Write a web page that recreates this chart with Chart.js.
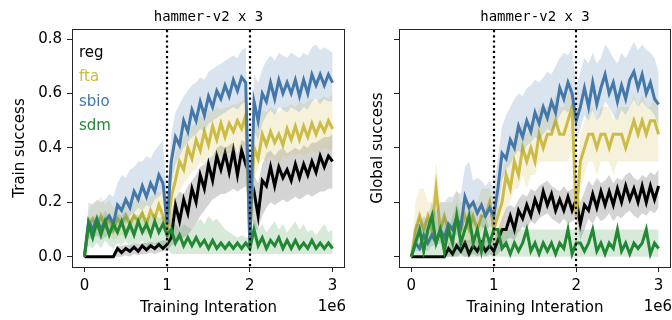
<!DOCTYPE html>
<html>
<head>
<meta charset="utf-8">
<script src="https://cdn.jsdelivr.net/npm/chart.js@4/dist/chart.umd.min.js"></script>
<style>
  html, body { margin: 0; padding: 0; background: #fff; }
  #wrap { position: relative; width: 672px; height: 320px; }
  canvas { position: absolute; top: 0; }
  #train { left: 0; }
  #global { left: 346px; }
</style>
</head>
<body>
<div id="wrap">
  <canvas id="train" width="346" height="320"></canvas>
  <canvas id="global" width="326" height="320"></canvas>
</div>
<script>
// training steps, in units of 1e6
const steps = [0, 0.05, 0.1, 0.15, 0.2, 0.25, 0.3, 0.35, 0.4, 0.45, 0.5, 0.55, 0.6, 0.65, 0.7, 0.75, 0.8, 0.85, 0.9, 0.95,
  1.0, 1.05, 1.1, 1.15, 1.2, 1.25, 1.3, 1.35, 1.4, 1.45, 1.5, 1.55, 1.6, 1.65, 1.7, 1.75, 1.8, 1.85, 1.9, 1.95,
  2.0, 2.05, 2.1, 2.15, 2.2, 2.25, 2.3, 2.35, 2.4, 2.45, 2.5, 2.55, 2.6, 2.65, 2.7, 2.75, 2.8, 2.85, 2.9, 2.95, 3.0];
const xTicks = [0, 1, 2, 3];
const yTicks = [0, 0.2, 0.4, 0.6, 0.8];
const phaseBreaks = [1, 2];
const methods = ['reg', 'fta', 'sbio', 'sdm'];

// ---- Train success (left panel) ----
const trainReg = [0, 0, 0, 0, 0, 0, 0, 0, 0.03, 0.015, 0.03, 0.02, 0.035, 0.02, 0.04, 0.025, 0.04, 0.03, 0.045, 0.03,
  0.045, 0.07, 0.19, 0.13, 0.21, 0.16, 0.25, 0.2, 0.3, 0.25, 0.34, 0.28, 0.37, 0.32, 0.38, 0.31, 0.39, 0.3, 0.39, 0.34,
  0.3, 0.24, 0.15, 0.28, 0.26, 0.33, 0.26, 0.33, 0.29, 0.32, 0.28, 0.34, 0.29, 0.34, 0.3, 0.35, 0.31, 0.37, 0.33, 0.37, 0.35];
const trainRegLo = [0, 0, 0, 0, 0, 0, 0, 0, 0, 0, 0.005, 0, 0.01, 0.005, 0.01, 0.01, 0.015, 0.01, 0.015, 0.02,
  0.02, 0.04, 0.05, 0.06, 0.07, 0.08, 0.1, 0.12, 0.15, 0.17, 0.19, 0.21, 0.22, 0.23, 0.23, 0.24, 0.25, 0.24, 0.25, 0.26,
  0.2, 0.1, 0.1, 0.15, 0.18, 0.2, 0.19, 0.2, 0.21, 0.2, 0.21, 0.22, 0.21, 0.22, 0.23, 0.22, 0.23, 0.24, 0.24, 0.25, 0.25];
const trainRegHi = [0, 0, 0, 0, 0, 0, 0, 0, 0.04, 0.04, 0.045, 0.04, 0.05, 0.045, 0.05, 0.05, 0.055, 0.05, 0.055, 0.06,
  0.06, 0.16, 0.21, 0.24, 0.23, 0.26, 0.28, 0.3, 0.33, 0.34, 0.36, 0.37, 0.4, 0.41, 0.4, 0.41, 0.42, 0.38, 0.43, 0.42,
  0.38, 0.3, 0.27, 0.34, 0.38, 0.39, 0.37, 0.39, 0.4, 0.38, 0.39, 0.4, 0.39, 0.41, 0.4, 0.42, 0.42, 0.43, 0.44, 0.44, 0.45];

const trainFta = [0, 0.11, 0.14, 0.11, 0.15, 0.11, 0.14, 0.1, 0.14, 0.12, 0.15, 0.12, 0.15, 0.13, 0.16, 0.12, 0.17, 0.14, 0.19, 0.15,
  0.08, 0.22, 0.28, 0.35, 0.32, 0.4, 0.36, 0.43, 0.39, 0.46, 0.41, 0.48, 0.43, 0.49, 0.44, 0.49, 0.46, 0.5, 0.47, 0.52,
  0.05, 0.4, 0.36, 0.45, 0.41, 0.46, 0.42, 0.45, 0.41, 0.47, 0.43, 0.48, 0.43, 0.48, 0.44, 0.49, 0.45, 0.49, 0.46, 0.5, 0.47];
const trainFtaLo = [0, 0.06, 0.08, 0.07, 0.09, 0.07, 0.08, 0.06, 0.07, 0.08, 0.07, 0.09, 0.08, 0.1, 0.09, 0.08, 0.1, 0.11, 0.12, 0.11,
  0.04, 0.12, 0.2, 0.24, 0.27, 0.29, 0.31, 0.32, 0.35, 0.34, 0.37, 0.36, 0.38, 0.37, 0.38, 0.38, 0.39, 0.39, 0.4, 0.41,
  0.02, 0.28, 0.33, 0.36, 0.35, 0.37, 0.36, 0.34, 0.37, 0.36, 0.38, 0.37, 0.38, 0.37, 0.38, 0.39, 0.38, 0.39, 0.4, 0.39, 0.4];
const trainFtaHi = [0, 0.17, 0.2, 0.2, 0.22, 0.19, 0.21, 0.18, 0.19, 0.2, 0.19, 0.21, 0.2, 0.22, 0.21, 0.2, 0.22, 0.23, 0.24, 0.23,
  0.12, 0.28, 0.38, 0.41, 0.44, 0.46, 0.48, 0.49, 0.52, 0.51, 0.54, 0.53, 0.55, 0.54, 0.55, 0.55, 0.56, 0.56, 0.57, 0.58,
  0.1, 0.48, 0.52, 0.54, 0.53, 0.55, 0.54, 0.53, 0.55, 0.55, 0.56, 0.55, 0.57, 0.56, 0.57, 0.58, 0.57, 0.58, 0.59, 0.58, 0.6];

const trainSbio = [0, 0.13, 0.1, 0.14, 0.1, 0.13, 0.15, 0.12, 0.19, 0.17, 0.21, 0.18, 0.24, 0.21, 0.26, 0.22, 0.27, 0.24, 0.3, 0.27,
  0.12, 0.35, 0.44, 0.41, 0.5, 0.46, 0.54, 0.5, 0.57, 0.52, 0.59, 0.55, 0.61, 0.58, 0.63, 0.59, 0.65, 0.61, 0.66, 0.64,
  0.03, 0.57, 0.5, 0.6, 0.57, 0.64, 0.58, 0.65, 0.6, 0.64, 0.6, 0.65, 0.59, 0.65, 0.6, 0.67, 0.63, 0.67, 0.63, 0.67, 0.64];
const trainSbioLo = [0, 0.07, 0.06, 0.08, 0.06, 0.07, 0.09, 0.08, 0.11, 0.14, 0.12, 0.15, 0.16, 0.18, 0.17, 0.19, 0.18, 0.21, 0.22, 0.24,
  0.06, 0.27, 0.34, 0.37, 0.4, 0.42, 0.44, 0.45, 0.47, 0.46, 0.49, 0.5, 0.51, 0.52, 0.53, 0.54, 0.55, 0.54, 0.56, 0.57,
  0.01, 0.46, 0.43, 0.49, 0.52, 0.54, 0.52, 0.55, 0.54, 0.53, 0.55, 0.54, 0.53, 0.55, 0.54, 0.57, 0.58, 0.56, 0.58, 0.57, 0.57];
const trainSbioHi = [0, 0.2, 0.19, 0.21, 0.2, 0.21, 0.23, 0.22, 0.27, 0.3, 0.29, 0.32, 0.33, 0.35, 0.35, 0.37, 0.36, 0.39, 0.41, 0.43,
  0.2, 0.45, 0.53, 0.56, 0.59, 0.61, 0.63, 0.64, 0.66, 0.65, 0.68, 0.69, 0.7, 0.71, 0.72, 0.73, 0.74, 0.73, 0.76, 0.77,
  0.08, 0.67, 0.64, 0.69, 0.72, 0.74, 0.72, 0.75, 0.74, 0.73, 0.75, 0.74, 0.73, 0.75, 0.74, 0.77, 0.78, 0.76, 0.77, 0.76, 0.75];

const trainSdm = [0, 0.12, 0.07, 0.13, 0.08, 0.13, 0.08, 0.12, 0.09, 0.13, 0.08, 0.12, 0.08, 0.13, 0.09, 0.12, 0.08, 0.13, 0.09, 0.12,
  0.08, 0.1, 0.05, 0.08, 0.04, 0.07, 0.04, 0.07, 0.04, 0.06, 0.03, 0.06, 0.03, 0.05, 0.03, 0.05, 0.03, 0.05, 0.03, 0.05,
  0.03, 0.1, 0.04, 0.07, 0.03, 0.06, 0.04, 0.07, 0.03, 0.06, 0.03, 0.06, 0.03, 0.05, 0.03, 0.06, 0.03, 0.05, 0.03, 0.05, 0.03];
const trainSdmLo = [0, 0.04, 0.03, 0.05, 0.03, 0.06, 0.04, 0.03, 0.05, 0.04, 0.06, 0.03, 0.05, 0.04, 0.06, 0.03, 0.04, 0.05, 0.03, 0.04,
  0.03, 0.01, 0.01, 0.01, 0.01, 0.01, 0.01, 0.01, 0.01, 0.01, 0.01, 0.01, 0.01, 0.01, 0.01, 0.01, 0.01, 0.01, 0.01, 0.01,
  0.01, 0.01, 0.01, 0.01, 0.01, 0.01, 0.01, 0.01, 0.01, 0.01, 0.01, 0.01, 0.01, 0.01, 0.01, 0.01, 0.01, 0.01, 0.01, 0.01, 0.01];
const trainSdmHi = [0, 0.15, 0.13, 0.16, 0.14, 0.17, 0.15, 0.13, 0.16, 0.15, 0.17, 0.14, 0.16, 0.15, 0.17, 0.14, 0.15, 0.16, 0.14, 0.15,
  0.13, 0.14, 0.12, 0.1, 0.12, 0.11, 0.1, 0.12, 0.14, 0.12, 0.15, 0.13, 0.14, 0.12, 0.1, 0.09, 0.08, 0.07, 0.08, 0.07,
  0.07, 0.14, 0.1, 0.12, 0.09, 0.11, 0.13, 0.1, 0.12, 0.09, 0.11, 0.13, 0.1, 0.12, 0.09, 0.1, 0.08, 0.1, 0.12, 0.09, 0.1];

// ---- Global success (right panel) ----
const globalReg = [0, 0, 0, 0, 0, 0, 0, 0, 0, 0.03, 0.01, 0.04, 0.02, 0.05, 0.01, 0.04, 0.02, 0.05, 0.02, 0.04,
  0.02, 0.06, 0.1, 0.1, 0.15, 0.1, 0.17, 0.14, 0.19, 0.15, 0.21, 0.17, 0.24, 0.19, 0.23, 0.17, 0.21, 0.17, 0.22, 0.17,
  0.21, 0.12, 0.19, 0.17, 0.23, 0.18, 0.24, 0.19, 0.24, 0.19, 0.25, 0.2, 0.26, 0.21, 0.25, 0.2, 0.26, 0.2, 0.26, 0.21, 0.26];
const globalRegLo = [0, 0, 0, 0, 0, 0, 0, 0, 0, 0, 0, 0, 0.01, 0, 0, 0.01, 0, 0.01, 0, 0.01,
  0, 0.01, 0.03, 0.06, 0.07, 0.06, 0.09, 0.11, 0.1, 0.13, 0.12, 0.14, 0.15, 0.16, 0.14, 0.13, 0.12, 0.14, 0.12, 0.13,
  0.14, 0.06, 0.1, 0.14, 0.12, 0.15, 0.13, 0.14, 0.16, 0.13, 0.15, 0.14, 0.16, 0.17, 0.15, 0.14, 0.16, 0.15, 0.17, 0.16, 0.18];
const globalRegHi = [0, 0, 0, 0, 0, 0, 0, 0, 0, 0.05, 0.06, 0.05, 0.07, 0.06, 0.06, 0.07, 0.06, 0.07, 0.06, 0.07,
  0.06, 0.1, 0.14, 0.18, 0.19, 0.18, 0.21, 0.23, 0.22, 0.25, 0.24, 0.26, 0.27, 0.28, 0.26, 0.25, 0.24, 0.26, 0.24, 0.25,
  0.26, 0.2, 0.24, 0.28, 0.26, 0.29, 0.27, 0.28, 0.3, 0.27, 0.29, 0.28, 0.3, 0.31, 0.29, 0.28, 0.3, 0.29, 0.31, 0.3, 0.32];

const globalFta = [0, 0.1, 0.15, 0.1, 0.15, 0.1, 0.25, 0.1, 0.15, 0.1, 0.1, 0.15, 0.1, 0.15, 0.1, 0.15, 0.1, 0.15, 0.15, 0.2,
  0.1, 0.15, 0.2, 0.3, 0.25, 0.35, 0.3, 0.4, 0.35, 0.4, 0.35, 0.45, 0.4, 0.45, 0.45, 0.5, 0.45, 0.45, 0.5, 0.55,
  0.15, 0.35, 0.4, 0.45, 0.45, 0.4, 0.45, 0.45, 0.4, 0.45, 0.45, 0.45, 0.4, 0.45, 0.5, 0.45, 0.5, 0.45, 0.5, 0.5, 0.45];
const globalFtaLo = [0, 0.05, 0.1, 0.1, 0.05, 0.05, 0.1, 0.05, 0.05, 0.05, 0.05, 0.1, 0.05, 0.05, 0.05, 0.05, 0.05, 0.1, 0.1, 0.1,
  0.05, 0.05, 0.1, 0.17, 0.2, 0.25, 0.25, 0.3, 0.25, 0.3, 0.3, 0.35, 0.35, 0.35, 0.35, 0.35, 0.35, 0.35, 0.35, 0.4,
  0.05, 0.25, 0.3, 0.35, 0.35, 0.3, 0.35, 0.35, 0.35, 0.3, 0.35, 0.35, 0.35, 0.35, 0.35, 0.35, 0.35, 0.35, 0.35, 0.35, 0.35];
const globalFtaHi = [0, 0.2, 0.25, 0.25, 0.2, 0.2, 0.35, 0.2, 0.2, 0.2, 0.2, 0.25, 0.2, 0.2, 0.2, 0.2, 0.2, 0.25, 0.25, 0.25,
  0.2, 0.2, 0.3, 0.38, 0.4, 0.45, 0.45, 0.5, 0.45, 0.5, 0.5, 0.55, 0.55, 0.55, 0.55, 0.6, 0.55, 0.55, 0.6, 0.65,
  0.25, 0.45, 0.5, 0.55, 0.55, 0.5, 0.55, 0.55, 0.55, 0.5, 0.55, 0.55, 0.55, 0.55, 0.6, 0.55, 0.6, 0.55, 0.55, 0.6, 0.55];

const globalSbio = [0, 0.05, 0.03, 0.08, 0.05, 0.08, 0.05, 0.1, 0.07, 0.12, 0.1, 0.14, 0.11, 0.22, 0.18, 0.2, 0.16, 0.19, 0.15, 0.18,
  0.15, 0.25, 0.38, 0.36, 0.43, 0.4, 0.48, 0.44, 0.5, 0.46, 0.53, 0.49, 0.55, 0.51, 0.57, 0.53, 0.62, 0.58, 0.64, 0.6,
  0.5, 0.55, 0.62, 0.55, 0.64, 0.56, 0.62, 0.67, 0.6, 0.64, 0.57, 0.63, 0.58, 0.65, 0.68, 0.62, 0.67, 0.6, 0.64, 0.58, 0.56];
const globalSbioLo = [0, 0.02, 0.02, 0.03, 0.02, 0.04, 0.04, 0.05, 0.05, 0.07, 0.07, 0.08, 0.07, 0.13, 0.15, 0.11, 0.12, 0.11, 0.1, 0.11,
  0.1, 0.17, 0.28, 0.32, 0.34, 0.37, 0.39, 0.38, 0.41, 0.42, 0.44, 0.43, 0.45, 0.47, 0.46, 0.48, 0.52, 0.54, 0.53, 0.55,
  0.42, 0.47, 0.52, 0.5, 0.54, 0.5, 0.52, 0.57, 0.55, 0.52, 0.5, 0.54, 0.52, 0.55, 0.58, 0.55, 0.57, 0.55, 0.54, 0.52, 0.48];
const globalSbioHi = [0, 0.12, 0.12, 0.15, 0.13, 0.16, 0.17, 0.2, 0.2, 0.22, 0.22, 0.24, 0.23, 0.33, 0.35, 0.28, 0.29, 0.28, 0.26, 0.28,
  0.25, 0.36, 0.48, 0.52, 0.55, 0.58, 0.6, 0.59, 0.62, 0.63, 0.65, 0.64, 0.66, 0.68, 0.67, 0.7, 0.73, 0.75, 0.74, 0.77,
  0.62, 0.68, 0.73, 0.71, 0.75, 0.71, 0.73, 0.78, 0.76, 0.73, 0.71, 0.75, 0.73, 0.76, 0.79, 0.76, 0.78, 0.76, 0.75, 0.73, 0.68];

const globalSdm = [0, 0.05, 0.1, 0.02, 0.1, 0.15, 0.05, 0.1, 0.02, 0.1, 0.05, 0.15, 0.05, 0.1, 0.15, 0.05, 0.1, 0.02, 0.1, 0.05,
  0.1, 0.1, 0.03, 0.05, 0.01, 0.05, 0.02, 0.05, 0.1, 0.02, 0.05, 0.01, 0.05, 0.02, 0.05, 0.01, 0.05, 0.03, 0.1, 0.01,
  0.05, 0.05, 0.02, 0.05, 0.1, 0.02, 0.05, 0.01, 0.05, 0.03, 0.1, 0.02, 0.05, 0.01, 0.05, 0.03, 0.05, 0.1, 0.01, 0.05, 0.03];
const globalSdmLo = [0, 0, 0, 0, 0, 0, 0, 0, 0, 0, 0, 0, 0, 0, 0, 0, 0, 0, 0, 0,
  0, 0, 0, 0, 0, 0, 0, 0, 0, 0, 0, 0, 0, 0, 0, 0, 0, 0, 0, 0,
  0, 0, 0, 0, 0, 0, 0, 0, 0, 0, 0, 0, 0, 0, 0, 0, 0, 0, 0, 0, 0];
const globalSdmHi = [0, 0.1, 0.15, 0.1, 0.15, 0.2, 0.15, 0.1, 0.15, 0.1, 0.15, 0.2, 0.15, 0.1, 0.2, 0.15, 0.1, 0.15, 0.15, 0.1,
  0.1, 0.1, 0.1, 0.1, 0.1, 0.1, 0.1, 0.1, 0.1, 0.1, 0.1, 0.1, 0.1, 0.1, 0.1, 0.1, 0.1, 0.1, 0.1, 0.1,
  0.1, 0.1, 0.1, 0.1, 0.1, 0.1, 0.1, 0.1, 0.1, 0.1, 0.1, 0.1, 0.1, 0.1, 0.1, 0.1, 0.1, 0.1, 0.1, 0.1, 0.1];

const lineColors = { reg: '#000000', fta: '#ccbb44', sbio: '#4477aa', sdm: '#228833' };
const bandColors = {
  reg: 'rgba(0, 0, 0, 0.17)',
  fta: 'rgba(204, 187, 68, 0.2)',
  sbio: 'rgba(68, 119, 170, 0.2)',
  sdm: 'rgba(34, 136, 51, 0.18)'
};

Chart.defaults.font.family = 'DejaVu Sans';
Chart.defaults.font.size = 15;
Chart.defaults.color = '#000';

function pts(vals) {
  return vals.map((v, i) => ({ x: steps[i] * 1e6, y: v }));
}

// lower edge, upper edge filled down to it, then the mean line on top
function series(name, mean, lo, hi, order) {
  return [
    { data: pts(lo), borderColor: 'rgba(0,0,0,0)', borderWidth: 0, pointRadius: 0, fill: false, order: order + 1 },
    { data: pts(hi), borderColor: 'rgba(0,0,0,0)', borderWidth: 0, pointRadius: 0, fill: '-1',
      backgroundColor: bandColors[name], order: order + 1 },
    { data: pts(mean), borderColor: lineColors[name], borderWidth: 3, pointRadius: 0, fill: false,
      order: order, borderJoinStyle: 'miter' }
  ];
}

const decor = {
  id: 'decor',
  afterDatasetsDraw(chart, args, opts) {
    const { ctx, chartArea: a, scales: { x } } = chart;
    ctx.save();
    // dotted task switches
    ctx.strokeStyle = '#000';
    ctx.lineWidth = 2.2;
    ctx.setLineDash([2.2, 3]);
    phaseBreaks.forEach(b => {
      const px = Math.round(x.getPixelForValue(b * 1e6));
      ctx.beginPath();
      ctx.moveTo(px, a.top + 1);
      ctx.lineTo(px, a.bottom);
      ctx.stroke();
    });
    ctx.setLineDash([]);
    // axes box
    ctx.strokeStyle = '#262626';
    ctx.lineWidth = 1;
    ctx.strokeRect(Math.round(a.left) + 0.5, Math.round(a.top) + 0.5,
      Math.round(a.right - a.left) - 1, Math.round(a.bottom - a.top));
    ctx.restore();
  },
  afterDraw(chart, args, opts) {
    const { ctx, chartArea: a } = chart;
    ctx.save();
    ctx.fillStyle = '#000';
    ctx.textBaseline = 'alphabetic';
    ctx.font = '14px "DejaVu Sans Mono"';
    ctx.textAlign = 'center';
    ctx.fillText('hammer-v2 x 3', (a.left + a.right) / 2, 20.5);
    ctx.font = '15px "DejaVu Sans"';
    ctx.textAlign = 'right';
    ctx.fillText('1e6', a.right + 1, 311);
    if (opts.legend) {
      ctx.textAlign = 'left';
      methods.forEach((m, i) => {
        ctx.fillStyle = lineColors[m];
        ctx.fillText(m, a.left + 7, 57 + i * 24.4);
      });
    }
    ctx.restore();
  }
};

function makeChart(id, yTitle, yWidth, yTitlePad, showYLabels, legend, data) {
  return new Chart(document.getElementById(id), {
    type: 'line',
    data: { datasets: data },
    options: {
      responsive: false,
      animation: false,
      events: [],
      layout: { padding: { left: 0, right: 1, top: 29, bottom: 0 } },
      plugins: { legend: { display: false }, tooltip: { enabled: false }, decor: { legend: legend } },
      scales: {
        x: {
          type: 'linear',
          min: -0.15e6,
          max: 3.15e6,
          afterBuildTicks: s => { s.ticks = xTicks.map(v => ({ value: v * 1e6 })); },
          afterFit: s => { s.height = 53; },
          ticks: { callback: v => String(v / 1e6), maxRotation: 0, autoSkip: false, padding: 5 },
          grid: { drawOnChartArea: false, tickLength: 5, color: '#222' },
          border: { display: false },
          title: { display: true, text: 'Training Interation', padding: { top: 0, bottom: 3 } }
        },
        y: {
          min: -0.038,
          max: 0.837,
          afterBuildTicks: s => { s.ticks = yTicks.map(v => ({ value: v })); },
          afterFit: s => { s.width = yWidth; },
          ticks: { callback: v => showYLabels ? v.toFixed(1) : '', padding: 5 },
          grid: { drawOnChartArea: false, tickLength: 5, color: '#222' },
          border: { display: false },
          title: { display: true, text: yTitle, padding: { top: yTitlePad, bottom: 0 } }
        }
      }
    },
    plugins: [decor]
  });
}

makeChart('train', 'Train success', 72, 11, true, true, [
  ...series('reg', trainReg, trainRegLo, trainRegHi, 8),
  ...series('fta', trainFta, trainFtaLo, trainFtaHi, 6),
  ...series('sbio', trainSbio, trainSbioLo, trainSbioHi, 4),
  ...series('sdm', trainSdm, trainSdmLo, trainSdmHi, 2)
]);

makeChart('global', 'Global success', 53, 23, false, false, [
  ...series('reg', globalReg, globalRegLo, globalRegHi, 8),
  ...series('fta', globalFta, globalFtaLo, globalFtaHi, 6),
  ...series('sbio', globalSbio, globalSbioLo, globalSbioHi, 4),
  ...series('sdm', globalSdm, globalSdmLo, globalSdmHi, 2)
]);
</script>
</body>
</html>
